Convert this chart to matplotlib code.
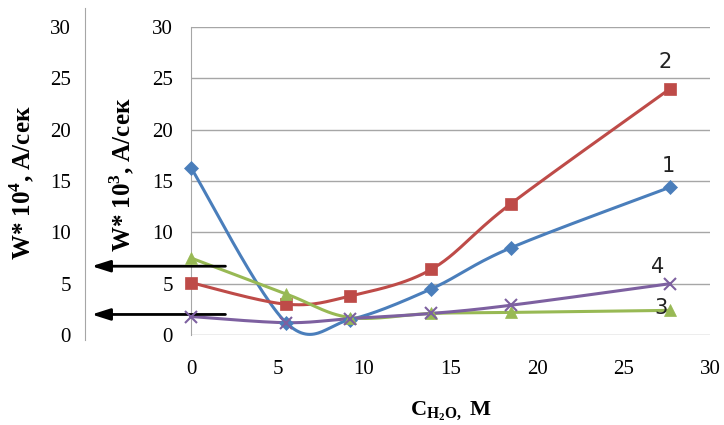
import matplotlib
matplotlib.use("Agg")
import matplotlib.pyplot as plt
import numpy as np

# concentration, M
conc = [0, 5.5, 9.2, 13.9, 18.5, 27.7]

w1 = [16.3, 1.2, 1.5, 4.5, 8.5, 14.4]
w2 = [5.1, 3.0, 3.8, 6.4, 12.8, 24.0]
w3 = [7.5, 4.0, 1.7, 2.1, 2.2, 2.4]
w4 = [1.8, 1.2, 1.6, 2.1, 2.9, 5.0]

series_names = ["1", "2", "3", "4"]
ticks = [0, 5, 10, 15, 20, 25, 30]


def smooth(x, y, n=30):
    # excel-like smoothed line (catmull-rom as cubic bezier)
    x = np.asarray(x, float)
    y = np.asarray(y, float)
    pts = np.column_stack([x, y])
    out = []
    for i in range(len(pts) - 1):
        p0 = pts[max(i - 1, 0)]
        p1 = pts[i]
        p2 = pts[i + 1]
        p3 = pts[min(i + 2, len(pts) - 1)]
        c1 = p1 + (p2 - p0) / 6
        c2 = p2 - (p3 - p1) / 6
        t = np.linspace(0, 1, n)[:, None]
        seg = ((1 - t) ** 3 * p1 + 3 * (1 - t) ** 2 * t * c1
               + 3 * (1 - t) * t ** 2 * c2 + t ** 3 * p2)
        out.append(seg if i == 0 else seg[1:])
    out = np.vstack(out)
    return out[:, 0], out[:, 1]


plt.rcParams['font.family'] = ['Liberation Serif', 'DejaVu Serif']
plt.rcParams['mathtext.fontset'] = 'custom'
plt.rcParams['mathtext.rm'] = 'Liberation Serif'
plt.rcParams['mathtext.bf'] = 'Liberation Serif:bold'

fig = plt.figure(figsize=(7.24, 4.25), dpi=100)
ax = fig.add_axes([191 / 724, 1 - 335 / 425, 519 / 724, 308 / 425])

styles = [
    (w1, '#4A7EBB', 'D', 7),
    (w2, '#BE4B48', 's', 8),
    (w3, '#98B954', '^', 9),
    (w4, '#7D60A0', 'x', 9),
]
for vals, col, mk, ms in styles:
    sx, sy = smooth(conc, vals)
    ax.plot(sx, sy, color=col, lw=2.2, zorder=3, clip_on=False)
    ax.plot(conc, vals, ls='none', marker=mk, ms=ms, color=col,
            mew=1.5 if mk == 'x' else 0.5, zorder=4, clip_on=False)

# curve numbers
label_pos = [(27.2, 16.5), (27.0, 26.6), (26.8, 2.6), (26.6, 6.6)]
for name, (lx, ly) in zip(series_names, label_pos):
    ax.text(lx, ly, name, fontsize=15, family='DejaVu Sans',
            color='#222222', va='center', ha='left')

ax.set_xlim(0, 30)
ax.set_ylim(0, 30)
ax.set_xticks(ticks)
ax.set_yticks(ticks)
ax.tick_params(length=0, labelsize=15, colors='black')
ax.tick_params(axis='x', pad=18)
ax.tick_params(axis='y', pad=13)
ax.yaxis.grid(True, color='#a6a6a6', lw=1)
ax.set_axisbelow(True)
for s in ['top', 'right', 'bottom']:
    ax.spines[s].set_visible(False)
ax.spines['left'].set_color('#a6a6a6')
ax.set_xlabel(r'C$_{\mathbf{H_2O,}}$ M', fontsize=16, fontweight='bold',
              labelpad=15)

# arrows pointing to the outer axis
for ya in [6.7, 2.0]:
    ax.annotate('', xy=(-5.9, ya), xytext=(2.15, ya), annotation_clip=False,
                arrowprops=dict(arrowstyle='-|>,head_length=1.1,head_width=0.35',
                                color='black', lw=2))

# outer axis (W*10^4)
ax2 = fig.add_axes([85 / 724, 1 - 340 / 425, 0.001, 332 / 425])
ax2.set_ylim(-5 / 10.27, 30 + 19 / 10.27)
ax2.set_yticks(ticks)
ax2.set_xticks([])
ax2.tick_params(length=0, labelsize=15, pad=10)
for s in ['top', 'right', 'bottom']:
    ax2.spines[s].set_visible(False)
ax2.spines['left'].set_color('#a6a6a6')
ax2.patch.set_visible(False)

fig.text(22 / 724, 1 - 183 / 425, r'W* 10$^{\mathbf{4}}$, A/сек', rotation=90,
         fontsize=18, fontweight='bold', ha='center', va='center')
fig.text(122 / 724, 1 - 175 / 425, r'W* 10$^{\mathbf{3}}$, A/сек', rotation=90,
         fontsize=18, fontweight='bold', ha='center', va='center')

fig.savefig('out.png', dpi=100)
